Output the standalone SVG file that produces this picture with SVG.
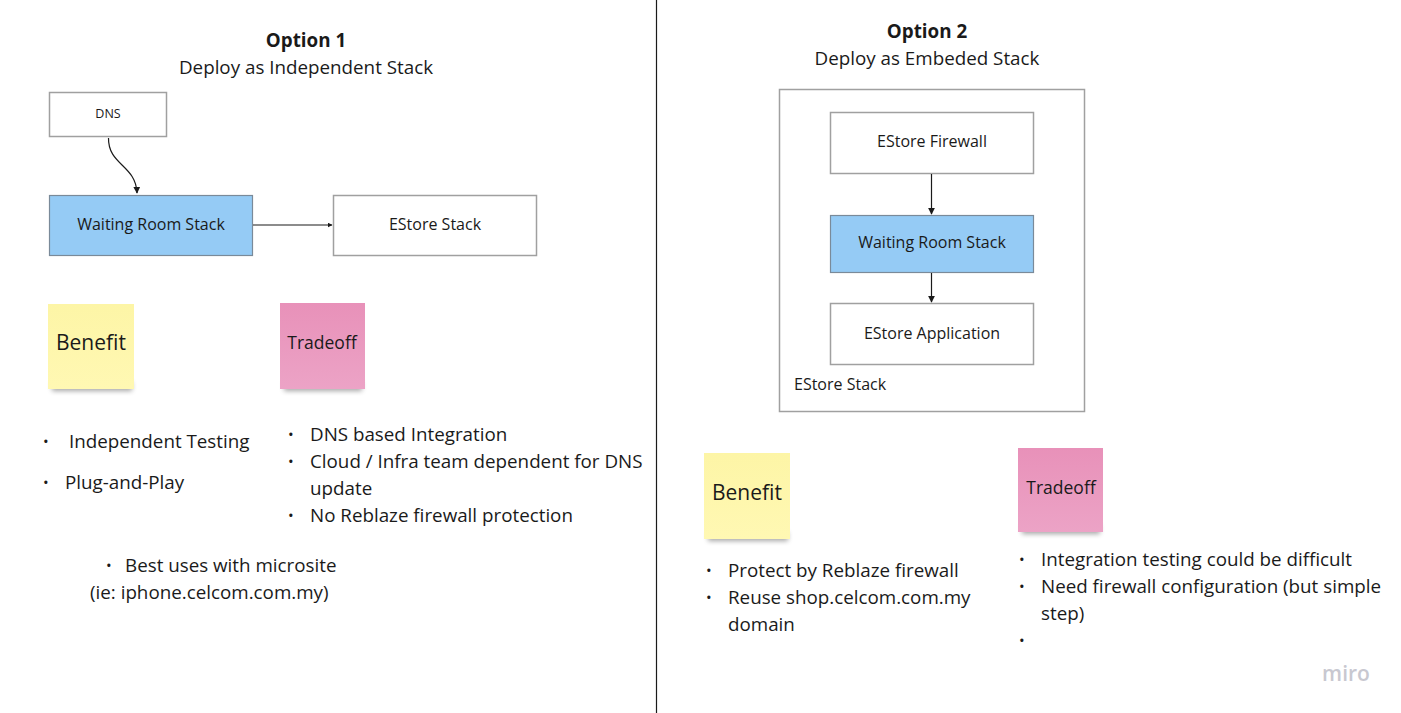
<svg xmlns="http://www.w3.org/2000/svg" width="1401" height="713" viewBox="0 0 1401 713">
<style>
text{font-family:"Open Sans","Liberation Sans",sans-serif;fill:#1a1a1a}
.box{fill:#ffffff;stroke:#a0a0a0;stroke-width:1.5}
.blue{fill:#95cbf5;stroke:#7a8a99;stroke-width:1.2}
.lbl{font-size:16px;text-anchor:middle}
.h{font-size:18.8px;text-anchor:middle}
.b{font-size:18.8px}
.dot{font-size:15px}
.conn{fill:none;stroke:#1a1a1a;stroke-width:1.2}
</style>
<defs>
<marker id="arr" viewBox="0 0 10 10" refX="9" refY="5" markerWidth="7" markerHeight="7" orient="auto" markerUnits="userSpaceOnUse">
<path d="M0,0 L10,5 L0,10 z" fill="#1a1a1a"/>
</marker>
<marker id="arrs" viewBox="0 0 10 10" refX="9" refY="5" markerWidth="5" markerHeight="5" orient="auto" markerUnits="userSpaceOnUse">
<path d="M0,0 L10,5 L0,10 z" fill="#1a1a1a"/>
</marker>
<filter id="sh" x="-20%" y="-50%" width="140%" height="200%">
<feGaussianBlur stdDeviation="2.5"/>
</filter>
<linearGradient id="pinkg" x1="0" y1="0" x2="0" y2="1">
<stop offset="0" stop-color="#e891b9"/>
<stop offset="1" stop-color="#eca3c6"/>
</linearGradient>
<linearGradient id="yelg" x1="0" y1="0" x2="0" y2="1">
<stop offset="0" stop-color="#fdf5a6"/>
<stop offset="1" stop-color="#fff8b3"/>
</linearGradient>
</defs>
<rect width="1401" height="713" fill="#ffffff"/>
<line x1="656.5" y1="0" x2="656.5" y2="713" stroke="#1a1a1a" stroke-width="1.2"/>

<g id="title1">
<text x="306" y="47" class="h" font-weight="bold">Option 1</text>
<text x="306" y="74" class="h">Deploy as Independent Stack</text>
</g>
<g id="title2">
<text x="927" y="38" class="h" font-weight="bold">Option 2</text>
<text x="927" y="65" class="h">Deploy as Embeded Stack</text>
</g>

<g id="dns">
<rect x="49.5" y="92.5" width="117" height="44" class="box"/>
<text x="108" y="118" font-size="12.5" text-anchor="middle">DNS</text>
</g>
<g id="wr1">
<rect x="49.5" y="195.5" width="203" height="60" class="blue"/>
<text x="151" y="230" class="lbl">Waiting Room Stack</text>
</g>
<g id="estore1">
<rect x="333.5" y="195.5" width="203" height="60" class="box"/>
<text x="435" y="230" class="lbl">EStore Stack</text>
</g>

<g id="estorestack2">
<rect x="779.5" y="89.5" width="305" height="322" class="box"/>
<text x="794" y="390" font-size="16">EStore Stack</text>
</g>
<g id="fw2">
<rect x="830.5" y="112.5" width="203" height="61" class="box"/>
<text x="932" y="147" class="lbl">EStore Firewall</text>
</g>
<g id="wr2">
<rect x="830.5" y="215.5" width="203" height="57" class="blue"/>
<text x="932" y="248" class="lbl">Waiting Room Stack</text>
</g>
<g id="app2">
<rect x="830.5" y="303.5" width="203" height="61" class="box"/>
<text x="932" y="339" class="lbl">EStore Application</text>
</g>

<g id="connectors">
<path d="M108.5,138 C108,165 136,165 137,193" class="conn" marker-end="url(#arr)"/>
<path d="M253,225 L332,225" class="conn" stroke-width="1" marker-end="url(#arrs)"/>
<path d="M931.5,174 L931.5,214" class="conn" marker-end="url(#arr)"/>
<path d="M931.5,273 L931.5,302" class="conn" marker-end="url(#arr)"/>
</g>

<g id="benefit1">
<rect x="52" y="382" width="80" height="9" fill="#000" opacity="0.35" filter="url(#sh)"/>
<rect x="48" y="304" width="86" height="85" fill="url(#yelg)"/>
<text x="56" y="350" font-size="21">Benefit</text>
</g>
<g id="tradeoff1">
<rect x="284" y="382" width="78" height="9" fill="#000" opacity="0.35" filter="url(#sh)"/>
<rect x="280" y="303" width="85" height="86" fill="url(#pinkg)"/>
<text x="322" y="349" font-size="17.5" text-anchor="middle">Tradeoff</text>
</g>

<g id="benefitlist1">
<text x="43" y="447" class="dot">•</text>
<text x="69" y="448" class="b">Independent Testing</text>
<text x="43" y="488" class="dot">•</text>
<text x="65" y="489" class="b">Plug-and-Play</text>
</g>
<g id="tradeofflist1">
<text x="288" y="440" class="dot">•</text>
<text x="310" y="441" class="b">DNS based Integration</text>
<text x="288" y="467" class="dot">•</text>
<text x="310" y="468" class="b">Cloud / Infra team dependent for DNS</text>
<text x="310" y="495" class="b">update</text>
<text x="288" y="521" class="dot">•</text>
<text x="310" y="522" class="b">No Reblaze firewall protection</text>
</g>
<g id="note1">
<text x="106" y="571" class="dot">•</text>
<text x="125" y="572" class="b">Best uses with microsite</text>
<text x="90" y="599" class="b">(ie: iphone.celcom.com.my)</text>
</g>

<g id="benefit2">
<rect x="708" y="532" width="80" height="9" fill="#000" opacity="0.35" filter="url(#sh)"/>
<rect x="704" y="453" width="86" height="86" fill="url(#yelg)"/>
<text x="712" y="500" font-size="21">Benefit</text>
</g>
<g id="tradeoff2">
<rect x="1022" y="525" width="78" height="9" fill="#000" opacity="0.35" filter="url(#sh)"/>
<rect x="1018" y="448" width="85" height="84" fill="url(#pinkg)"/>
<text x="1061" y="494" font-size="17.5" text-anchor="middle">Tradeoff</text>
</g>

<g id="benefitlist2">
<text x="706" y="576" class="dot">•</text>
<text x="728" y="577" class="b">Protect by Reblaze firewall</text>
<text x="706" y="603" class="dot">•</text>
<text x="728" y="604" class="b">Reuse shop.celcom.com.my</text>
<text x="728" y="631" class="b">domain</text>
</g>
<g id="tradeofflist2">
<text x="1019" y="565" class="dot">•</text>
<text x="1041" y="566" class="b">Integration testing could be difficult</text>
<text x="1019" y="592" class="dot">•</text>
<text x="1041" y="593" class="b">Need firewall configuration (but simple</text>
<text x="1041" y="620" class="b">step)</text>
<text x="1019" y="646" class="dot">•</text>
</g>

<text x="1346" y="681" font-size="21" text-anchor="middle" font-weight="600" style="fill:#c8c8d0">miro</text>
</svg>
